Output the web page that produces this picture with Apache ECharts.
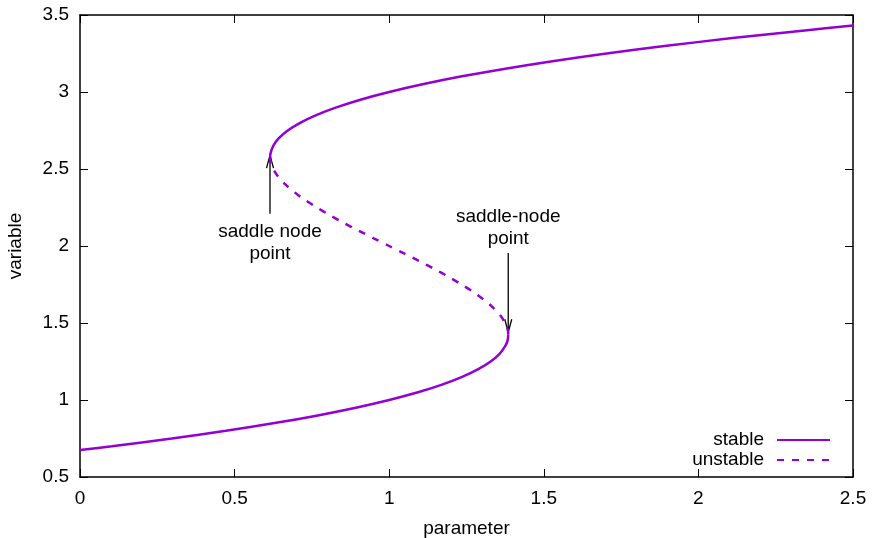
<!DOCTYPE html>
<html>
<head>
<meta charset="utf-8">
<script src="https://cdn.jsdelivr.net/npm/echarts@6/dist/echarts.min.js"></script>
<style>
  html, body { margin: 0; padding: 0; background: #fff; }
  #charts { width: 872px; height: 538px; }
</style>
</head>
<body>
<div id="charts"></div>
<script>
    // values: [parameter, variable]
    var lowerStable = [
        [0.000, 0.675], [0.103, 0.70], [0.297, 0.75], [0.472, 0.80], [0.629, 0.85],
        [0.769, 0.90], [0.892, 0.95], [1.000, 1.00], [1.093, 1.05], [1.171, 1.10],
        [1.236, 1.15], [1.288, 1.20], [1.328, 1.25], [1.357, 1.30], [1.375, 1.35],
        [1.382, 1.38], [1.384, 1.40], [1.385, 1.423]
    ];
    var unstable = [
        [1.385, 1.423], [1.384, 1.45], [1.375, 1.50], [1.359, 1.55], [1.336, 1.60],
        [1.307, 1.65], [1.273, 1.70], [1.234, 1.75], [1.192, 1.80], [1.147, 1.85],
        [1.099, 1.90], [1.050, 1.95], [1.000, 2.00], [0.950, 2.05], [0.901, 2.10],
        [0.853, 2.15], [0.808, 2.20], [0.766, 2.25], [0.727, 2.30], [0.693, 2.35],
        [0.664, 2.40], [0.641, 2.45], [0.625, 2.50], [0.616, 2.55], [0.615, 2.577]
    ];
    var upperStable = [
        [0.615, 2.577], [0.616, 2.60], [0.625, 2.65], [0.643, 2.70], [0.672, 2.75],
        [0.712, 2.80], [0.764, 2.85], [0.829, 2.90], [0.907, 2.95], [1.000, 3.00],
        [1.108, 3.05], [1.231, 3.10], [1.371, 3.15], [1.528, 3.20], [1.703, 3.25],
        [1.897, 3.30], [2.110, 3.35], [2.344, 3.40], [2.500, 3.432]
    ];

    // annotations: arrow x, tail, tip, text centre
    var arrowX = [0.6145, 1.385];
    var arrowTail = [2.21, 1.955];
    var arrowTip = [2.59, 1.44];
    var noteY = [2.019, 2.121];
    var noteText = ['saddle node\npoint', 'saddle-node\npoint'];

    var xTicks = [0, 2.5, 0.5];
    var yTicks = [0.5, 3.5, 0.5];

    var purple = '#9400d3';
    var font = '"Liberation Sans", Arial, Helvetica, sans-serif';
    var fsize = 19;

    var notes = [];
    for (var i = 0; i < arrowX.length; i++) {
        notes.push([arrowX[i], arrowTail[i], arrowTip[i], noteY[i], i]);
    }

    function axisBase(show) {
        return {
            axisLine: { show: true, onZero: false, lineStyle: { color: '#000', width: 1.5 } },
            axisTick: { show: true, inside: true, length: 8, lineStyle: { color: '#000', width: 1 } },
            axisLabel: { show: show, color: '#000', fontSize: fsize, fontFamily: font },
            splitLine: { show: false }
        };
    }

    var myChart = echarts.init(document.getElementById('charts'));

    var xBottom = Object.assign(axisBase(true), {
        type: 'value', position: 'bottom', min: xTicks[0], max: xTicks[1], interval: xTicks[2],
        name: 'parameter', nameLocation: 'middle', nameGap: 42,
        nameTextStyle: { color: '#000', fontSize: fsize, fontFamily: font }
    });
    xBottom.axisLabel.margin = 12;
    var xTop = Object.assign(axisBase(false), {
        type: 'value', position: 'top', min: xTicks[0], max: xTicks[1], interval: xTicks[2]
    });
    var yLeft = Object.assign(axisBase(true), {
        type: 'value', position: 'left', min: yTicks[0], max: yTicks[1], interval: yTicks[2],
        name: 'variable', nameLocation: 'middle', nameGap: 55, nameRotate: 90,
        nameTextStyle: { color: '#000', fontSize: fsize, fontFamily: font }
    });
    yLeft.axisLabel.margin = 11;
    var yRight = Object.assign(axisBase(false), {
        type: 'value', position: 'right', min: yTicks[0], max: yTicks[1], interval: yTicks[2]
    });

    var lineStyleSolid = { color: purple, width: 2.5 };
    var lineStyleDash = { color: purple, width: 2.5, type: [7, 8] };

    myChart.setOption({
        animation: false,
        backgroundColor: '#fff',
        grid: { left: 80, right: 19, top: 15, bottom: 61, containLabel: false, outerBoundsMode: 'none' },
        xAxis: [xBottom, xTop],
        yAxis: [yLeft, yRight],
        legend: {
            data: ['stable', 'unstable'],
            orient: 'vertical',
            right: 41,
            bottom: 68,
            padding: 0,
            align: 'right',
            itemWidth: 53,
            itemHeight: 14,
            itemGap: 0,
            itemStyle: { opacity: 0 },
            textStyle: { color: '#000', fontSize: fsize, lineHeight: 20, fontFamily: font, padding: [0, 8, 0, 0] }
        },
        series: [
            {
                name: 'stable', type: 'line', symbol: 'none', smooth: 0.3, data: lowerStable,
                lineStyle: lineStyleSolid, itemStyle: { color: purple }
            },
            {
                name: 'unstable', type: 'line', symbol: 'none', smooth: 0.3, data: unstable,
                lineStyle: lineStyleDash, itemStyle: { color: purple }
            },
            {
                name: 'stable', type: 'line', symbol: 'none', smooth: 0.3, data: upperStable,
                lineStyle: lineStyleSolid, itemStyle: { color: purple }
            },
            {
                name: 'notes',
                type: 'custom',
                clip: false,
                silent: true,
                data: notes,
                renderItem: function (params, api) {
                    var tail = api.coord([api.value(0), api.value(1)]);
                    var tip = api.coord([api.value(0), api.value(2)]);
                    var mid = api.coord([api.value(0), api.value(3)]);
                    var dir = tip[1] < tail[1] ? 1 : -1;
                    var stroke = { stroke: '#000', lineWidth: 1.3, fill: null };
                    return {
                        type: 'group',
                        children: [
                            { type: 'line', shape: { x1: tail[0], y1: tail[1], x2: tip[0], y2: tip[1] }, style: stroke },
                            {
                                type: 'polyline',
                                shape: { points: [[tip[0] - 3.5, tip[1] + dir * 13], [tip[0], tip[1]], [tip[0] + 3.5, tip[1] + dir * 13]] },
                                style: stroke
                            },
                            {
                                type: 'text',
                                style: {
                                    x: mid[0], y: mid[1],
                                    text: noteText[api.value(4)],
                                    align: 'center', verticalAlign: 'middle',
                                    fontSize: fsize, lineHeight: 22, fontFamily: font, fill: '#000'
                                }
                            }
                        ]
                    };
                }
            }
        ]
    });
</script>
</body>
</html>
